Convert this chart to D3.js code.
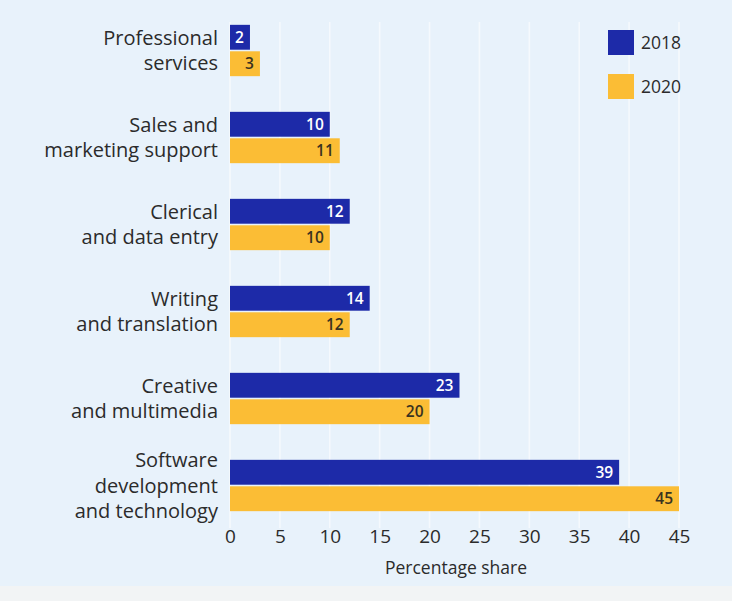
<!DOCTYPE html>
<html>
<head>
<meta charset="utf-8">
<script src="https://cdn.jsdelivr.net/npm/d3@7"></script>
<style>
  html, body { margin: 0; padding: 0; background: #f2f4f5; }
  svg { display: block; font-family: "Open Sans", "Noto Sans", sans-serif; }
</style>
</head>
<body>
<svg id="chart" width="732" height="601"></svg>
<script>
// Occupation categories (top to bottom); line breaks mark wrapped labels
const categories = [
  "Professional\nservices",
  "Sales and\nmarketing support",
  "Clerical\nand data entry",
  "Writing\nand translation",
  "Creative\nand multimedia",
  "Software\ndevelopment\nand technology"
];
const seriesNames = ["2018", "2020"];
const values2018 = [2, 10, 12, 14, 23, 39];
const values2020 = [3, 11, 10, 12, 20, 45];
const xTicks = [0, 5, 10, 15, 20, 25, 30, 35, 40, 45];
const axisTitle = "Percentage share";

const colors = { "2018": "#1d2aa8", "2020": "#fbbd35" };
const labelColors = { "2018": "#ffffff", "2020": "#3a3320" };
const textColor = "#2b2b2b";

const svg = d3.select("#chart");
const W = 732, H = 601;

// panel background
svg.append("rect").attr("x", 0).attr("y", 0).attr("width", W).attr("height", 586)
  .attr("fill", "#e8f2fb");

const x = d3.scaleLinear().domain([0, 45]).range([230, 679]);
const y0 = d3.scaleBand().domain(categories).range([7, 529])
  .paddingInner(0.41).paddingOuter(0.205);
const y1 = d3.scaleBand().domain(seriesNames).range([0, y0.bandwidth()]).paddingInner(0.06);

// vertical gridlines
svg.append("g").selectAll("line").data(xTicks).join("line")
  .attr("x1", d => x(d)).attr("x2", d => x(d))
  .attr("y1", 22).attr("y2", 528)
  .attr("stroke", "#f5f9fd").attr("stroke-width", 1.6);

const rows = categories.map((c, i) => ({
  cat: c,
  vals: [{ key: "2018", v: values2018[i] }, { key: "2020", v: values2020[i] }]
}));

const groups = svg.append("g").selectAll("g").data(rows).join("g")
  .attr("transform", d => `translate(0,${y0(d.cat)})`);

groups.selectAll("rect").data(d => d.vals).join("rect")
  .attr("x", x(0))
  .attr("y", d => y1(d.key))
  .attr("width", d => x(d.v) - x(0))
  .attr("height", y1.bandwidth())
  .attr("fill", d => colors[d.key]);

groups.selectAll("text.val").data(d => d.vals).join("text")
  .attr("class", "val")
  .attr("x", d => x(d.v) - 6)
  .attr("y", d => y1(d.key) + y1.bandwidth() / 2)
  .attr("dy", "0.36em")
  .attr("text-anchor", "end")
  .attr("font-size", 15.5)
  .attr("font-weight", 600)
  .attr("fill", d => labelColors[d.key])
  .text(d => d.v);

// category labels, multi-line, right aligned
const lineH = 25.5;
svg.append("g").selectAll("text").data(categories).join("text")
  .attr("text-anchor", "end")
  .attr("font-size", 20)
  .attr("fill", textColor)
  .each(function (d) {
    const lines = d.split("\n");
    const cy = y0(d) + y0.bandwidth() / 2;
    const t = d3.select(this);
    lines.forEach((ln, i) => {
      t.append("tspan")
        .attr("x", 218)
        .attr("y", cy + (i - (lines.length - 1) / 2) * lineH)
        .attr("dy", "0.36em")
        .text(ln);
    });
  });

// x axis tick labels
const xAxis = d3.axisBottom(x).tickValues(xTicks).tickSize(0).tickPadding(0);
const ax = svg.append("g").attr("transform", "translate(0,536)").call(xAxis);
ax.select(".domain").remove();
ax.selectAll("text")
  .attr("font-size", 19)
  .attr("font-family", "\"Open Sans\", \"Noto Sans\", sans-serif")
  .attr("fill", textColor)
  .attr("dy", "0.36em");

svg.append("text")
  .attr("x", 456).attr("y", 568)
  .attr("dy", "0.36em")
  .attr("text-anchor", "middle")
  .attr("font-size", 17.5)
  .attr("fill", textColor)
  .text(axisTitle);

// legend
const legend = svg.append("g").selectAll("g").data(seriesNames).join("g")
  .attr("transform", (d, i) => `translate(608,${30 + i * 44})`);
legend.append("rect").attr("width", 26).attr("height", 25)
  .attr("fill", d => colors[d]);
legend.append("text")
  .attr("x", 33).attr("y", 13).attr("dy", "0.36em")
  .attr("font-size", 17.5).attr("fill", textColor)
  .text(d => d);
</script>
</body>
</html>
